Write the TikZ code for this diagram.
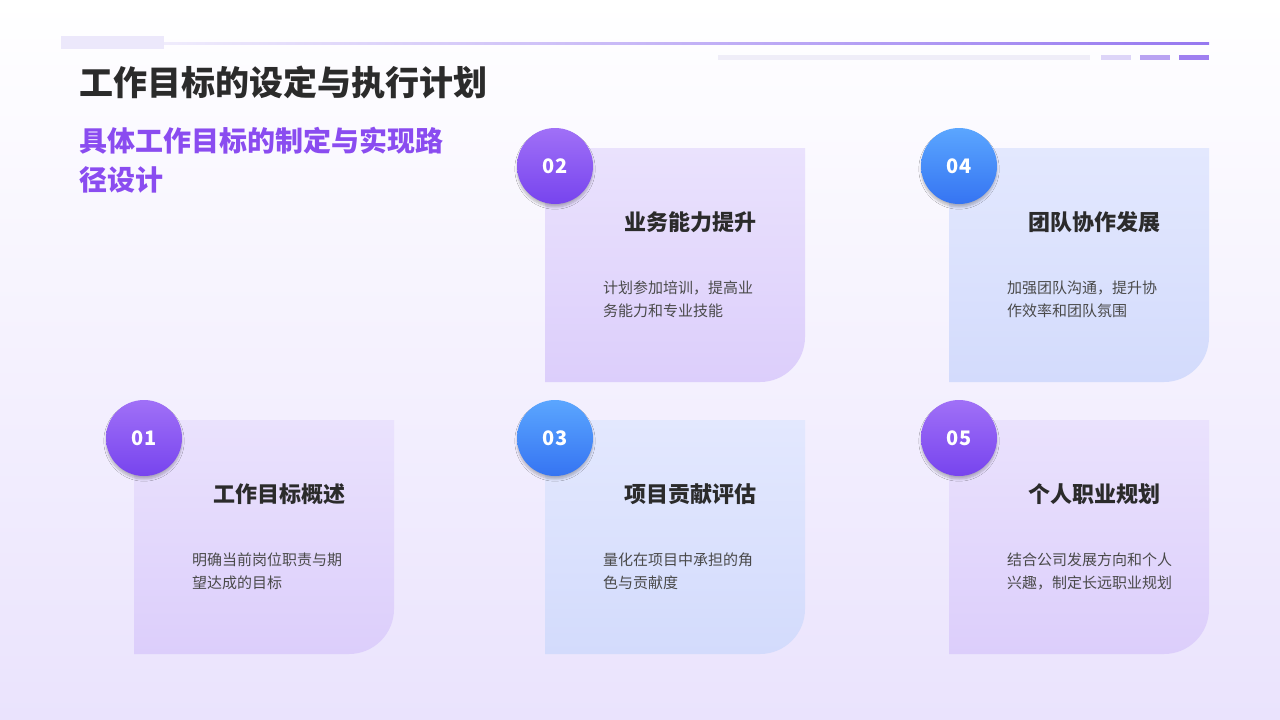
\documentclass[tikz,border=0pt]{standalone}
\usepackage{fontspec}
\setmainfont{Noto Sans CJK SC}
\usetikzlibrary{shadows.blur}
\definecolor{dark}{HTML}{2B2B2B}
\definecolor{body}{HTML}{4A4A4A}
\definecolor{sub}{HTML}{8A4CF0}
\definecolor{bgB}{HTML}{EAE3FD}
\definecolor{cpA}{HTML}{EAE2FD}
\definecolor{cpB}{HTML}{DCCEFB}
\definecolor{cbA}{HTML}{E3E8FE}
\definecolor{cbB}{HTML}{D3DBFC}
\definecolor{ccp1}{HTML}{A070F7}
\definecolor{ccp2}{HTML}{7744EE}
\definecolor{ccb1}{HTML}{5BA6FF}
\definecolor{ccb2}{HTML}{3574F2}
\definecolor{h1}{HTML}{ECE8FB}
\definecolor{h2}{HTML}{F0ECFC}
\definecolor{h3}{HTML}{9678F0}
\definecolor{h4}{HTML}{EFEDF8}
\definecolor{h5}{HTML}{DDD5F8}
\definecolor{h6}{HTML}{B9A3F2}
\definecolor{h7}{HTML}{9F7FF0}
\tikzset{
  pcard/.style={top color=cpA, bottom color=cpB, draw=none},
  bcard/.style={top color=cbA, bottom color=cbB, draw=none},
  pcirc/.style={circle, minimum size=76pt, inner sep=0pt, top color=ccp1, bottom color=ccp2, text=white, font=\bfseries\fontsize{20}{20}\selectfont, blur shadow={shadow blur steps=6, shadow xshift=0pt, shadow yshift=-3pt, shadow opacity=25}},
  bcirc/.style={pcirc, top color=ccb1, bottom color=ccb2},
  ctitle/.style={text=dark, font=\bfseries\fontsize{22}{22}\selectfont},
  cbody/.style={text=body, font=\fontsize{15}{23}\selectfont, align=left, anchor=north west, inner sep=0pt},
}
\begin{document}
\begin{tikzpicture}[x=1pt,y=-1pt]
\shade[top color=white, bottom color=bgB] (0,0) rectangle (1280,720);
\useasboundingbox (0,0) rectangle (1280,720);
% header
\fill[h1] (61,36) rectangle (164,49);
\shade[left color=h2, right color=h3] (164,42.5) rectangle (1209,44);
\fill[h4] (718,55) rectangle (1090,59.5);
\fill[h5] (1101,55) rectangle (1131,59.5);
\fill[h6] (1140,55) rectangle (1170,59.5);
\fill[h7] (1179,55) rectangle (1209,59.5);
\node[anchor=west, inner sep=0pt, text=dark, font=\bfseries\fontsize{34}{34}\selectfont] (title) at (79,83) {工作目标的设定与执行计划};
\node[anchor=north west, inner sep=0pt, text=sub, align=left, font=\bfseries\fontsize{28}{39}\selectfont] (subtitle) at (79,127) {具体工作目标的制定与实现路\\径设计};
% cards
\newcommand{\mycard}[8]{%
  \path[#1] (#2,#3) -- (#2+260,#3) -- (#2+260,#3+189) arc[start angle=0,end angle=90,radius=45] -- (#2,#3+234) -- cycle;
  \node[#4] (c#5) at (#2+10,#3+18) {#5};
  \node[ctitle] (t#5) at (#2+145,#3+74) {#6};
  \node[cbody] (b#5) at (#2+58,#3+133) {#7\\#8};
}
\mycard{pcard}{545}{148}{pcirc}{02}{业务能力提升}{计划参加培训，提高业}{务能力和专业技能}
\mycard{bcard}{949}{148}{bcirc}{04}{团队协作发展}{加强团队沟通，提升协}{作效率和团队氛围}
\mycard{pcard}{134}{420}{pcirc}{01}{工作目标概述}{明确当前岗位职责与期}{望达成的目标}
\mycard{bcard}{545}{420}{bcirc}{03}{项目贡献评估}{量化在项目中承担的角}{色与贡献度}
\mycard{pcard}{949}{420}{pcirc}{05}{个人职业规划}{结合公司发展方向和个人}{兴趣，制定长远职业规划}
\end{tikzpicture}
\end{document}
